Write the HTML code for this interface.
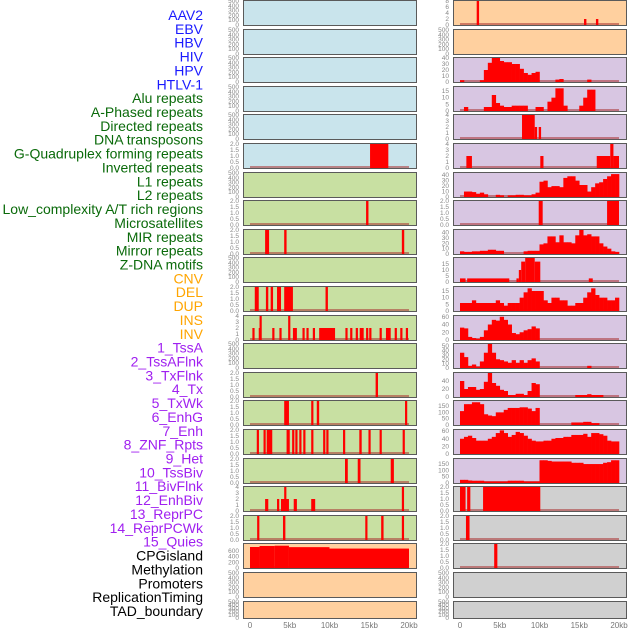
<!DOCTYPE html>
<html><head><meta charset="utf-8">
<style>
html,body{margin:0;padding:0;background:#fff;}
svg{display:block;font-family:"Liberation Sans",sans-serif;}
</style></head>
<body>
<svg id="chart" width="630" height="630" viewBox="0 0 630 630"></svg>
<script>
const labels = ["AAV2","EBV","HBV","HIV","HPV","HTLV-1","Alu repeats","A-Phased repeats","Directed repeats","DNA transposons","G-Quadruplex forming repeats","Inverted repeats","L1 repeats","L2 repeats","Low_complexity A/T rich regions","Microsatellites","MIR repeats","Mirror repeats","Z-DNA motifs","CNV","DEL","DUP","INS","INV","1_TssA","2_TssAFlnk","3_TxFlnk","4_Tx","5_TxWk","6_EnhG","7_Enh","8_ZNF_Rpts","9_Het","10_TssBiv","11_BivFlnk","12_EnhBiv","13_ReprPC","14_ReprPCWk","15_Quies","CPGisland","Methylation","Promoters","ReplicationTiming","TAD_boundary"];
const labelColors = ["#1a1aff","#1a1aff","#1a1aff","#1a1aff","#1a1aff","#1a1aff","#0a6a0a","#0a6a0a","#0a6a0a","#0a6a0a","#0a6a0a","#0a6a0a","#0a6a0a","#0a6a0a","#0a6a0a","#0a6a0a","#0a6a0a","#0a6a0a","#0a6a0a","#ffa500","#ffa500","#ffa500","#ffa500","#ffa500","#a020f0","#a020f0","#a020f0","#a020f0","#a020f0","#a020f0","#a020f0","#a020f0","#a020f0","#a020f0","#a020f0","#a020f0","#a020f0","#a020f0","#a020f0","#000","#000","#000","#000","#000"];
const xTickKb = [0,5,10,15,20];
const xTickLabels = ["0","5kb","10kb","15kb","20kb"];
const ticksEmpty = [0,100,200,300,400,500];
const ticks2 = [0,0.5,1,1.5,2];
const ticks4 = [0,1,2,3,4];
const ticks8 = [0,2,4,6,8];
const ticks40 = [0,10,20,30,40];
const ticks15 = [0,5,10,15];
const ticks60 = [0,20,40,60];
const ticks50 = [0,10,20,30,40,50];
const ticksDel = [0,20,40];
const ticks150 = [0,50,100,150];
const ticksCpg = [0,200,400,600];
// segments: [startKb, endKb, value]
const segL5 = [[15.1,17.4,2]];
const segL7 = [[14.6,14.9,2]];
const segL8 = [[1.9,2.4,2],[4.3,4.6,2],[19.1,19.4,2]];
const segL10 = [[0.6,1.1,2],[2.0,2.3,2],[2.6,2.9,2],[3.4,3.9,2],[4.3,5.2,2],[5.1,5.4,2],[9.5,9.8,2]];
const segL11 = [[0.3,0.55,2],[1.1,1.4,2],[1.2,1.4,4],[2.8,3.0,2],[3.7,3.9,2],[4.8,5.0,4],[5.4,5.9,2],[6.6,6.8,2],[7.1,7.3,2],[7.9,8.1,2],[8.7,10.7,2],[12.0,12.2,2],[12.6,12.8,2],[13.3,13.5,2],[13.8,14.3,2],[14.6,14.8,2],[15.0,15.2,2],[16.3,16.5,2],[17.1,17.7,2],[18.2,18.4,2],[18.9,19.1,2],[19.6,19.8,2]];
const segL13 = [[15.8,16.1,2]];
const segL14 = [[4.3,4.9,2],[7.7,7.9,2],[8.4,8.7,2],[19.5,19.7,2]];
const segL15 = [[0.85,1.1,2],[1.7,1.9,2],[2.1,2.8,2],[4.6,5.0,2],[5.3,5.5,2],[5.7,5.9,2],[6.2,6.4,2],[6.7,6.9,2],[7.7,7.85,2],[9.2,9.4,2],[9.6,9.85,2],[11.7,11.9,2],[13.75,14.05,2],[14.9,15.1,2],[16.3,16.5,2],[19.2,19.35,2]];
const segL16 = [[11.95,12.3,2],[13.55,13.9,2],[17.7,18.1,2]];
const segL17 = [[1.9,2.3,2],[3.4,3.65,2],[3.9,4.9,2],[4.3,4.5,4],[5.5,5.9,2],[7.7,8.2,2],[19.1,19.3,4]];
const segL18 = [[0.9,1.1,2],[4.15,4.45,2],[14.5,14.7,2],[16.5,16.8,2],[19.1,19.3,2]];
const segL19 = [[0,1.2,735],[1.2,3.1,770],[3.1,4.9,780],[4.9,10,730],[10,20,680]];
const segR0 = [[2.1,2.4,8],[15.6,15.9,2],[17.1,17.4,2]];
const segR4 = [[7.8,9.4,4],[9.4,9.7,2],[9.9,10.2,2]];
const segR5 = [[0.8,1.5,2],[10.1,10.5,2],[17.2,18.9,2],[18.9,19.3,4],[19.3,20,2]];
const segR7 = [[9.9,10.4,2],[18.5,20,2]];
const segR9 = [[0,0.7,3],[0.9,6.2,3],[7.1,7.4,3],[7.4,7.7,10],[7.7,8.2,17],[8.2,9.4,20],[9.4,10.1,17],[16.2,16.7,3]];
const segR17 = [[0,0.7,2],[0.9,1.3,2],[2.9,10.1,2]];
const segR18 = [[0.75,1.2,2]];
const segR19 = [[4.3,4.7,2]];
// binned profiles: 40 bins of 0.5 kb
const binsR2 = [3,0,0,0,0,3,20,32,40,40,35,33,33,30,30,22,15,12,15,17,0,0,0,0,4,5,0,0,0,0,0,0,4,0,0,0,0,0,0,0];
const binsR3 = [0,3,0,0,0,0,3,3,12,6,4,3,3,4,4,4,4,0,0,3,3,0,7,10,17,17,4,0,0,0,4,10,16,16,0,0,0,0,0,0];
const binsR6 = [0,10,10,9,6,8,5,0,0,4,3,0,3,3,4,4,3,3,5,8,28,30,18,20,20,18,35,38,38,30,22,22,10,18,25,27,33,38,42,42];
const binsR8 = [5,4,4,5,5,6,6,8,8,6,6,0,0,0,0,0,5,6,6,6,18,20,33,33,22,35,22,22,20,35,45,35,37,33,33,20,14,10,5,4];
const binsR10 = [6,6,6,8,6,6,6,6,6,8,6,4,6,6,6,10,14,17,15,15,15,8,6,10,10,8,8,4,4,6,6,10,14,17,12,10,10,8,8,10];
const binsR11 = [32,30,8,5,3,8,25,40,52,50,60,52,40,18,15,20,25,28,35,30,0,0,0,0,0,0,0,0,0,0,0,0,0,0,0,0,0,0,0,0];
const binsR12 = [35,25,5,8,3,15,35,55,35,20,18,15,12,18,12,18,12,18,22,15,0,0,0,0,0,0,0,0,0,0,0,0,5,0,0,0,0,0,0,0];
const binsR13 = [40,20,25,25,18,20,38,60,35,28,18,15,5,5,8,8,5,15,35,32,0,0,0,0,0,0,0,0,0,5,5,5,7,5,5,5,0,0,0,0];
const binsR14 = [110,165,165,180,180,165,85,75,70,100,100,120,135,135,135,140,140,130,110,135,0,0,0,0,0,0,0,0,20,20,20,25,25,15,15,0,0,0,0,0];
const binsR15 = [40,45,48,42,35,35,35,40,45,55,62,55,45,50,58,55,48,40,35,33,33,35,35,40,42,42,45,45,50,50,50,53,45,55,55,52,48,35,33,33];
const binsR16 = [25,25,20,18,18,18,12,12,12,12,12,12,18,18,18,18,12,12,12,12,180,180,175,170,170,170,170,170,160,160,160,150,150,150,150,150,160,165,180,180];

const colBg = {blue:"#c9e4ec",green:"#c8e0a2",orange:"#ffd09f",purple:"#d8c6e2",grey:"#d0d0d0"};
const panels = [
 {c:0,r:0,bg:"blue",ticks:ticksEmpty,ymax:500},
 {c:0,r:1,bg:"blue",ticks:ticksEmpty,ymax:500},
 {c:0,r:2,bg:"blue",ticks:ticksEmpty,ymax:500},
 {c:0,r:3,bg:"blue",ticks:ticksEmpty,ymax:500},
 {c:0,r:4,bg:"blue",ticks:ticksEmpty,ymax:500},
 {c:0,r:5,bg:"blue",ticks:ticks2,ymax:2,seg:segL5},
 {c:0,r:6,bg:"green",ticks:ticksEmpty,ymax:500},
 {c:0,r:7,bg:"green",ticks:ticks2,ymax:2,seg:segL7},
 {c:0,r:8,bg:"green",ticks:ticks2,ymax:2,seg:segL8},
 {c:0,r:9,bg:"green",ticks:ticksEmpty,ymax:500},
 {c:0,r:10,bg:"green",ticks:ticks2,ymax:2,seg:segL10},
 {c:0,r:11,bg:"green",ticks:ticks4,ymax:4,seg:segL11},
 {c:0,r:12,bg:"green",ticks:ticksEmpty,ymax:500},
 {c:0,r:13,bg:"green",ticks:ticks2,ymax:2,seg:segL13},
 {c:0,r:14,bg:"green",ticks:ticks2,ymax:2,seg:segL14},
 {c:0,r:15,bg:"green",ticks:ticks2,ymax:2,seg:segL15},
 {c:0,r:16,bg:"green",ticks:ticks2,ymax:2,seg:segL16},
 {c:0,r:17,bg:"green",ticks:ticks4,ymax:4,seg:segL17},
 {c:0,r:18,bg:"green",ticks:ticks2,ymax:2,seg:segL18},
 {c:0,r:19,bg:"orange",ticks:ticksCpg,ymax:840,seg:segL19},
 {c:0,r:20,bg:"orange",ticks:ticksEmpty,ymax:500},
 {c:0,r:21,bg:"orange",ticks:ticksEmpty,ymax:500},
 {c:1,r:0,bg:"orange",ticks:ticks8,ymax:8,seg:segR0},
 {c:1,r:1,bg:"orange",ticks:ticksEmpty,ymax:500},
 {c:1,r:2,bg:"purple",ticks:ticks40,ymax:40,bins:binsR2},
 {c:1,r:3,bg:"purple",ticks:ticks15,ymax:18,bins:binsR3},
 {c:1,r:4,bg:"purple",ticks:ticks4,ymax:4,seg:segR4},
 {c:1,r:5,bg:"purple",ticks:ticks4,ymax:4,seg:segR5},
 {c:1,r:6,bg:"purple",ticks:ticks40,ymax:44,bins:binsR6},
 {c:1,r:7,bg:"purple",ticks:ticks2,ymax:2,seg:segR7},
 {c:1,r:8,bg:"purple",ticks:ticks40,ymax:45,bins:binsR8},
 {c:1,r:9,bg:"purple",ticks:ticks15,ymax:20,seg:segR9},
 {c:1,r:10,bg:"purple",ticks:ticks15,ymax:18,bins:binsR10},
 {c:1,r:11,bg:"purple",ticks:ticks60,ymax:62,bins:binsR11},
 {c:1,r:12,bg:"purple",ticks:ticks50,ymax:55,bins:binsR12},
 {c:1,r:13,bg:"purple",ticks:ticksDel,ymax:60,bins:binsR13},
 {c:1,r:14,bg:"purple",ticks:ticks150,ymax:190,bins:binsR14},
 {c:1,r:15,bg:"purple",ticks:ticks60,ymax:63,bins:binsR15},
 {c:1,r:16,bg:"purple",ticks:ticks150,ymax:190,bins:binsR16},
 {c:1,r:17,bg:"grey",ticks:ticks2,ymax:2,seg:segR17},
 {c:1,r:18,bg:"grey",ticks:ticks2,ymax:2,seg:segR18},
 {c:1,r:19,bg:"grey",ticks:ticks2,ymax:2,seg:segR19},
 {c:1,r:20,bg:"grey",ticks:ticksEmpty,ymax:500},
 {c:1,r:21,bg:"grey",ticks:ticksEmpty,ymax:500}
];

const NS = "http://www.w3.org/2000/svg";
const svg = document.getElementById("chart");
function mk(tag, attrs, parent){const e=document.createElementNS(NS,tag);for(const k in attrs)e.setAttribute(k,attrs[k]);(parent||svg).appendChild(e);return e;}
const colX = [243,453];
const panelW = 173;
const kbPx = 7.95;
function xScale(c,kb){return colX[c]+7+kb*kbPx;}
function rowTop(r){return Math.round(r*28.6);}
function rowH(r){return r===21?17:25;}

labels.forEach((t,i)=>{
  const e = mk("text",{x:203,y:15+i*13.86+5,"text-anchor":"end","font-size":"14",fill:labelColors[i]});
  e.textContent = t;
  
  
});

panels.forEach(p=>{
  const g = mk("g",{});
  
  
  const top = rowTop(p.r), h = rowH(p.r), x0 = colX[p.c];
  const bottom = top+h;
  const y = v => bottom - (v/p.ymax)*(h-1);
  const bg = mk("rect",{x:x0+0.5,y:top+0.5,width:panelW,height:h,fill:colBg[p.bg],stroke:"none"},g);
  
  
  p.ticks.forEach(v=>{
    const t = mk("text",{x:x0-4,y:y(v)+2,"text-anchor":"end","font-size":"6.5",fill:"#888"},g);
    t.textContent = (p.ticks===ticks2)? v.toFixed(1) : String(v);
    
    
  });
  const hasData = p.seg || p.bins;
  if (hasData) {
    const bl = mk("line",{x1:xScale(p.c,0),x2:xScale(p.c,20),y1:bottom-1,y2:bottom-1,stroke:"rgba(170,50,50,0.55)","stroke-width":2},g);
    
    
  }
  if (p.seg) p.seg.forEach(s=>{
    const xa = xScale(p.c,s[0]), xb = Math.max(xScale(p.c,s[1]), xa+2.2);
    const b = mk("rect",{x:xa,y:y(s[2]),width:xb-xa,height:bottom-y(s[2]),fill:"#ff0000"},g);
    
    
  });
  if (p.bins) p.bins.forEach((v,i)=>{
    if (v<=0) return;
    const xa = xScale(p.c,i*0.5), xb = xScale(p.c,(i+1)*0.5);
    const b = mk("rect",{x:xa,y:y(v),width:xb-xa+0.3,height:bottom-y(v),fill:"#ff0000"},g);
    
    
  });
  const fr = mk("rect",{x:x0+0.5,y:top+0.5,width:panelW,height:h,fill:"none",stroke:"#5a5a5a","stroke-width":1},g);
  
  
});

[0,1].forEach(c=>{
  xTickKb.forEach((kb,i)=>{
    const t = mk("text",{x:xScale(c,kb),y:628,"text-anchor":"middle","font-size":"8",fill:"#777"});
    t.textContent = xTickLabels[i];
    
    
  });
});
</script>
</body></html>
